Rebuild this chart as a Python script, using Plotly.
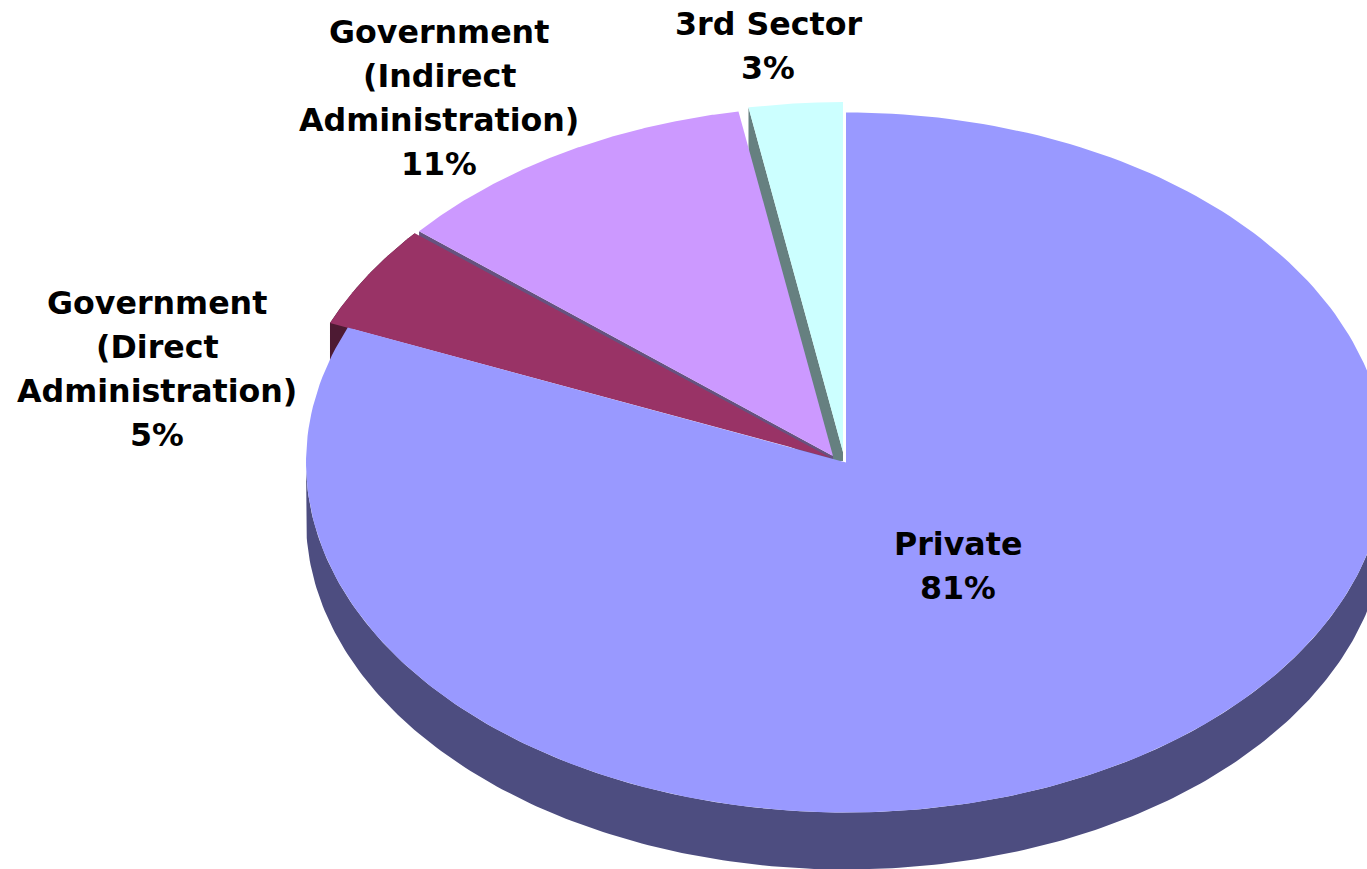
import numpy as np
import plotly.graph_objects as go

# Data (labels show the rounded percentages)
categories = ["Private", "Government (Direct Administration)", "Government (Indirect Administration)", "3rd Sector"]
values = [81.3, 4.8, 11.1, 2.8]
percent_labels = ["81%", "5%", "11%", "3%"]
label_lines = [["Private"], ["Government", "(Direct", "Administration)"],
               ["Government", "(Indirect", "Administration)"], ["3rd Sector"]]

# Styling
top_colors = ["#9999FF", "#993366", "#CC99FF", "#CCFFFF"]
wall_colors = ["#4D4D80", "#4D1A33", "#66527F", "#668080"]
centers = [(846, 462.5), (831, 458), (833, 456), (843, 452)]
radii_x = [540, 543, 540, 540]
RY = 350
walls = [57, 38, 57, 55]
apex_drop = [0, 0, 9, 9]
apex_shift = [0, 0, 0, 10]
label_pos = [(958, 544), (157, 303), (439, 32), (768, 24)]
LINE_STEP = 44
FONT = dict(family="DejaVu Sans, Verdana, sans-serif", size=31.7, color="#000000")

W, H = 1367, 869
edges = np.concatenate([[0], np.cumsum(values)]) / sum(values) * 360.0


def arc(i, a0=None, a1=None):
    a0 = edges[i] if a0 is None else a0
    a1 = edges[i + 1] if a1 is None else a1
    t = np.radians(np.linspace(a0, a1, 240))
    cx, cy = centers[i]
    return cx + radii_x[i] * np.sin(t), cy - RY * np.cos(t)


def top_face(i):
    x, y = arc(i)
    cx, cy = centers[i]
    return np.r_[cx, x, cx], np.r_[cy, y, cy]


def rim_wall(i, a0, a1):
    x, y = arc(i, a0, a1)
    return np.r_[x, x[::-1], x[0]], np.r_[y, (y + walls[i])[::-1], y[0]]


def start_wall(i):
    """Cut face of an exploded slice, seen along its leading edge."""
    x, y = arc(i)
    cx, cy = centers[i]
    drop = cy + apex_drop[i]
    return ([cx, x[0], x[0], cx - apex_shift[i], cx, cx],
            [cy, y[0], y[0] + walls[i], drop, drop, cy])


def poly(xy, color):
    return go.Scatter(x=list(xy[0]), y=list(xy[1]), mode="lines", fill="toself",
                      fillcolor=color, line=dict(width=0, color=color),
                      hoverinfo="skip", showlegend=False)


PRIVATE, DIRECT, INDIRECT, THIRD = 0, 1, 2, 3
traces = [
    poly(start_wall(THIRD), wall_colors[THIRD]),
    poly(top_face(THIRD), top_colors[THIRD]),
    poly(start_wall(INDIRECT), wall_colors[INDIRECT]),
    poly(top_face(INDIRECT), top_colors[INDIRECT]),
    poly(rim_wall(DIRECT, edges[DIRECT], edges[DIRECT + 1]), wall_colors[DIRECT]),
    poly(top_face(DIRECT), top_colors[DIRECT]),
    poly(rim_wall(PRIVATE, 90, 270), wall_colors[PRIVATE]),
    poly(top_face(PRIVATE), top_colors[PRIVATE]),
]

fig = go.Figure(traces)

annotations = []
for lines, pct, (lx, ly) in zip(label_lines, percent_labels, label_pos):
    for k, text in enumerate(lines + [pct]):
        annotations.append(dict(x=lx, y=ly + k * LINE_STEP, xref="x", yref="y",
                                text=f"<b>{text}</b>", showarrow=False, font=FONT,
                                xanchor="center", yanchor="middle"))

fig.update_layout(
    width=W, height=H, margin=dict(l=0, r=0, t=0, b=0),
    paper_bgcolor="#FFFFFF", plot_bgcolor="#FFFFFF", showlegend=False,
    xaxis=dict(range=[0, W], visible=False, fixedrange=True),
    yaxis=dict(range=[H, 0], visible=False, fixedrange=True),
    annotations=annotations,
)
fig.write_html("out.html", config={"displayModeBar": False},
               post_script="document.body.style.margin='0';document.body.style.overflow='hidden';")
